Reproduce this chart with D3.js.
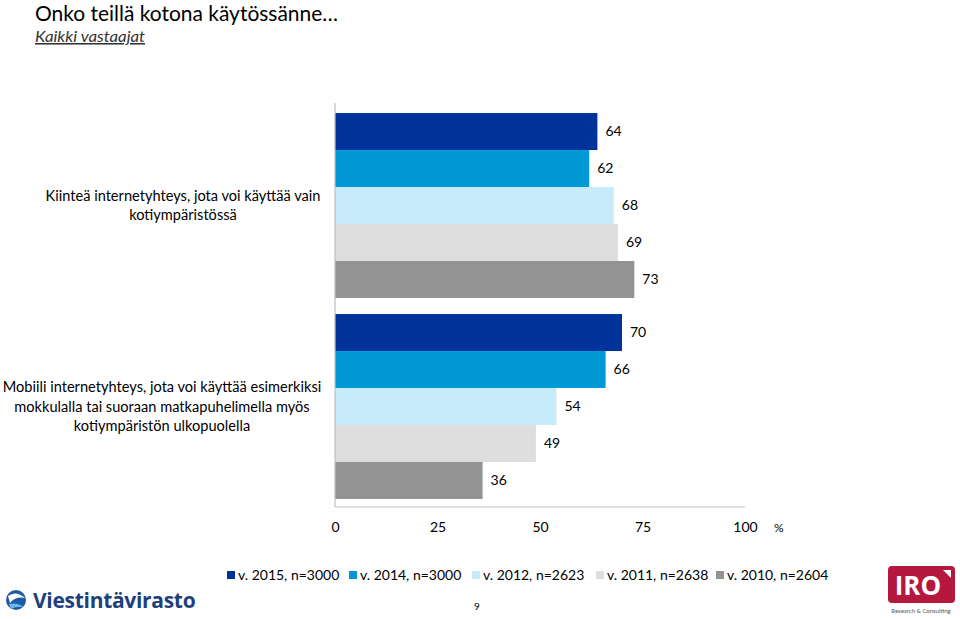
<!DOCTYPE html>
<html><head><meta charset="utf-8">
<script src="https://cdn.jsdelivr.net/npm/d3@7"></script>
<style>
body{margin:0;background:#fff;}
svg{display:block;font-family:Lato,"Open Sans",sans-serif;}
</style></head><body>
<svg id="c" width="960" height="619"></svg>
<script>
const categories = [
  ["Kiinteä internetyhteys, jota voi käyttää vain", "kotiympäristössä"],
  ["Mobiili internetyhteys, jota voi käyttää esimerkiksi", "mokkulalla tai suoraan matkapuhelimella myös", "kotiympäristön ulkopuolella"]
];
const seriesNames = ["v. 2015, n=3000", "v. 2014, n=3000", "v. 2012, n=2623", "v. 2011, n=2638", "v. 2010, n=2604"];
const seriesColors = ["#003399", "#0099d6", "#c7ebfb", "#dedede", "#939393"];
const values = [
  [64, 62, 68, 69, 73],
  [70, 66, 54, 49, 36]
];
const xTicks = [0, 25, 50, 75, 100];

(function(){
const svg = d3.select("#c");
const pL = 335, pR = 745, pT = 105, pB = 507;
const x = d3.scaleLinear().domain([0, 100]).range([pL, pR]);
const y = d3.scaleBand().domain(d3.range(categories.length)).range([pT, pB]).paddingInner(0.08).paddingOuter(0.04);
const y2 = d3.scaleBand().domain(d3.range(seriesNames.length)).range([0, y.bandwidth()]);

// Title
svg.append("text").attr("x", 35).attr("y", 21).attr("font-size", 21).attr("fill", "#000").attr("textLength", 303).attr("lengthAdjust", "spacingAndGlyphs").text("Onko teillä kotona käytössänne…");
svg.append("text").attr("x", 35).attr("y", 42).attr("font-size", 15.5).attr("font-style", "italic").attr("fill", "#333").attr("text-decoration", "underline").attr("textLength", 110).attr("lengthAdjust", "spacingAndGlyphs").text("Kaikki vastaajat");

// Bars
const g = svg.append("g");
values.forEach((row, ci) => {
  row.forEach((v, si) => {
    const yy = y(ci) + y2(si);
    g.append("rect").attr("x", x(0)).attr("y", yy).attr("width", x(v) - x(0)).attr("height", y2.bandwidth()).attr("fill", seriesColors[si]);
    g.append("text").attr("x", x(v) + 8).attr("y", yy + y2.bandwidth() / 2).attr("dy", "0.35em").attr("font-size", 14).attr("fill", "#000").text(v);
  });
});

// Axes lines
svg.append("line").attr("x1", pL).attr("x2", pL).attr("y1", 103).attr("y2", pB).attr("stroke", "#bfbfbf").attr("stroke-width", 1.2);
svg.append("line").attr("x1", pL).attr("x2", pR).attr("y1", pB).attr("y2", pB).attr("stroke", "#bfbfbf").attr("stroke-width", 1.2);

// X ticks
const xAxis = d3.axisBottom(x).tickValues(xTicks).tickSize(0).tickPadding(0);
const ax = svg.append("g").attr("transform", `translate(0,${pB + 15})`).call(xAxis);
ax.select(".domain").remove();
ax.selectAll("text").attr("font-size", 14).attr("fill", "#000").attr("font-family", "Lato,'Open Sans',sans-serif").attr("dy", "0.35em").attr("y", 5);
svg.append("text").attr("x", 774).attr("y", 532).attr("font-size", 12).attr("fill", "#000").text("%");

// Category labels
const labelCenters = [183, 162];
categories.forEach((lines, ci) => {
  const cy = y(ci) + y.bandwidth() / 2;
  const lh = 19.5;
  const t = svg.append("text").attr("text-anchor", "middle").attr("font-size", 14.6).attr("fill", "#000");
  lines.forEach((ln, i) => {
    t.append("tspan").attr("x", labelCenters[ci]).attr("y", cy + (i - (lines.length - 1) / 2) * lh).attr("dy", "0.35em").text(ln);
  });
});

// Legend
const legendX = [227, 349, 472, 596, 716];
const lg = svg.append("g");
seriesNames.forEach((n, i) => {
  lg.append("rect").attr("x", legendX[i]).attr("y", 571).attr("width", 8).attr("height", 8).attr("fill", seriesColors[i]);
  lg.append("text").attr("x", legendX[i] + 11).attr("y", 575).attr("dy", "0.35em").attr("font-size", 14).attr("fill", "#000").text(n);
});

// Page number
svg.append("text").attr("x", 477).attr("y", 606).attr("dy", "0.35em").attr("text-anchor", "middle").attr("font-size", 10).attr("fill", "#000").text("9");

// Viestintävirasto logo
const vl = svg.append("g");
vl.append("circle").attr("cx", 16).attr("cy", 600).attr("r", 10).attr("fill", "#1f5aa6");
vl.append("path").attr("d", "M8,596 Q16,590 25,598 Q16,596 10,603 Z").attr("fill", "#fff");
vl.append("path").attr("d", "M9,604 Q17,602 24,607 Q16,606 11,609 Z").attr("fill", "#6fb7e6");
vl.append("text").attr("x", 33).attr("y", 608).attr("font-size", 21).attr("font-weight", "bold").attr("fill", "#1d3f7e").attr("font-family", "'Open Sans',Lato,sans-serif").attr("letter-spacing", "-0.3").text("Viestintävirasto");

// IRO logo
const il = svg.append("g");
il.append("rect").attr("x", 888).attr("y", 566).attr("width", 67).attr("height", 37).attr("rx", 4).attr("fill", "#b5173f");
il.append("text").attr("x", 918).attr("y", 595).attr("text-anchor", "middle").attr("font-size", 26).attr("font-weight", "bold").attr("fill", "#fff").attr("font-family", "'Open Sans',sans-serif").text("IRO");
il.append("path").attr("d", "M943,570 L951,570 L951,578 Z").attr("fill", "#fff");
il.append("text").attr("x", 921).attr("y", 613).attr("text-anchor", "middle").attr("font-size", 6).attr("fill", "#555").text("Research & Consulting");
})();
</script>
</body></html>
